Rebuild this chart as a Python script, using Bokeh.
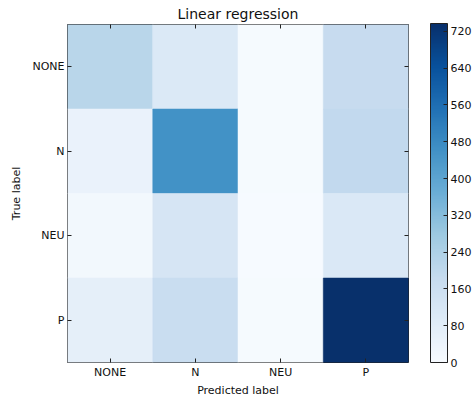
from bokeh.plotting import figure
from bokeh.models import LinearColorMapper, ColorBar, FixedTicker, CategoricalAxis, ColumnDataSource
from bokeh.palettes import Blues256
from bokeh.transform import transform
from bokeh.embed import file_html
from bokeh.resources import INLINE

labels = ["NONE", "N", "NEU", "P"]
row_none = [214, 105, 8, 182]
row_n = [50, 460, 6, 195]
row_neu = [20, 125, 5, 108]
row_p = [68, 175, 6, 737]
cbar_ticks = [0, 80, 160, 240, 320, 400, 480, 560, 640, 720]
vmax = 737

rows = [row_none, row_n, row_neu, row_p]
xs, ys, vs = [], [], []
for t, row in zip(labels, rows):
    for pl, v in zip(labels, row):
        xs.append(pl)
        ys.append(t)
        vs.append(v)
src = ColumnDataSource(dict(pred=xs, true=ys, value=vs))

FONT = "DejaVu Sans"
mapper = LinearColorMapper(palette=list(reversed(Blues256)), low=0, high=vmax)

p = figure(x_range=labels, y_range=list(reversed(labels)),
           frame_width=341, frame_height=338,
           output_backend="svg", toolbar_location=None,
           min_border_left=67, min_border_right=0, min_border_top=0, min_border_bottom=0,
           title="Linear regression", x_axis_label="Predicted label", y_axis_label="True label")
p.rect(x="pred", y="true", width=1, height=1, source=src,
       fill_color=transform("value", mapper), line_color=transform("value", mapper), line_width=0.5)

p.title.align = "center"
p.title.text_font = FONT
p.title.text_font_size = "14px"
p.title.text_font_style = "normal"
p.title.text_color = "#111111"
p.title.standoff = 6
p.grid.visible = False
p.outline_line_color = "#222222"
p.outline_line_width = 1

for ax in p.axis:
    ax.major_label_text_font = FONT
    ax.major_label_text_font_size = "11px"
    ax.major_label_text_color = "#111111"
    ax.axis_label_text_font = FONT
    ax.axis_label_text_font_size = "11px"
    ax.axis_label_text_font_style = "normal"
    ax.axis_label_text_color = "#111111"
    ax.major_tick_in = 4
    ax.major_tick_out = 0
    ax.major_tick_line_color = "#222222"
    ax.axis_line_color = None

p.xaxis.major_label_standoff = 3
p.xaxis.axis_label_standoff = 2
p.yaxis.major_label_standoff = 3
p.yaxis.axis_label_standoff = 6

for loc in ("above", "right"):
    a = CategoricalAxis()
    a.major_label_text_color = None
    a.major_tick_in = 4
    a.major_tick_out = 0
    a.major_tick_line_color = "#222222"
    a.axis_line_color = None
    a.major_label_standoff = 0
    p.add_layout(a, loc)

cb = ColorBar(color_mapper=mapper, ticker=FixedTicker(ticks=cbar_ticks),
              width=17, height=339, padding=0, margin=0, location=(22, 0),
              bar_line_color="#222222", major_tick_in=4, major_tick_out=0,
              major_tick_line_color="#222222", minor_tick_line_color=None,
              major_label_text_font=FONT, major_label_text_font_size="11px",
              major_label_text_color="#111111", label_standoff=3,
              border_line_color=None, background_fill_color="white")
p.add_layout(cb, "right")

open("out.html", "w").write(file_html(p, INLINE))
